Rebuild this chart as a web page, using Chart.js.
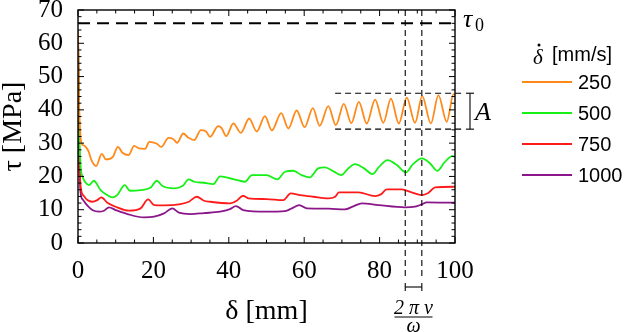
<!DOCTYPE html>
<html>
<head>
<meta charset="utf-8">
<script src="https://cdn.jsdelivr.net/npm/chart.js@4.4.0/dist/chart.umd.min.js"></script>
<style>
  html, body { margin: 0; padding: 0; background: #fff; }
  #wrap { width: 624px; height: 332px; }
</style>
</head>
<body>
<div id="wrap"><canvas id="shearChart" width="624" height="332"></canvas></div>
<script>
// sliding distance δ [mm] and shear stress τ [MPa]
const d250 = [0, 0.3, 0.6, 1.0, 1.6, 2.1, 2.8, 3.6, 4.8, 6.3, 7.4, 9.2, 10.6, 11.8, 13.4, 14.9, 16.2, 17.8, 18.9, 20.8, 22.1, 24.0, 25.3, 26.3, 27.9, 29.2, 30.8, 32.6, 33.9, 35.0, 37.2, 38.1, 39.3, 41.2, 43.2, 45.4, 47.4, 49.6, 51.4, 53.9, 55.8, 58.0, 60.1, 62.3, 64.1, 66.4, 68.4, 70.5, 72.5, 74.5, 76.6, 78.8, 81.0, 83.0, 85.1, 87.2, 89.4, 91.3, 93.6, 95.6, 97.8, 99.6, 100];
const t250 = [64, 42, 33, 29.8, 29.3, 28.8, 27.5, 24.8, 23.1, 26.8, 25.1, 25.8, 28.9, 27.1, 26.4, 29.2, 28.4, 28.3, 30.4, 29.9, 28.9, 31.6, 31.2, 30.1, 32.9, 31.7, 30.9, 33.9, 33.6, 31.9, 35.1, 34.5, 32.1, 35.9, 33.1, 37.4, 33.5, 38.1, 33.8, 39.0, 34.4, 39.8, 34.8, 40.5, 35.2, 41.1, 35.4, 41.8, 36.0, 42.4, 35.9, 43.1, 36.1, 43.4, 35.9, 43.7, 36.1, 44.1, 35.9, 44.4, 36.4, 44.7, 44.5];

const d500 = [0, 0.3, 0.7, 1.2, 1.9, 2.9, 4.2, 6.0, 7.5, 9.1, 10.4, 12.4, 13.8, 16.6, 19.3, 20.9, 22.4, 25.5, 27.7, 29.4, 30.8, 33.4, 35.9, 37.7, 41.2, 44.3, 46.1, 50.0, 52.9, 54.9, 57.1, 59.3, 61.5, 63.7, 65.5, 67.8, 69.9, 71.5, 73.5, 75.8, 78.1, 79.8, 82.1, 84.6, 87.0, 88.8, 91.2, 93.4, 95.3, 97.2, 99.3, 100];
const t500 = [62, 35, 23, 20, 18.3, 17.4, 18.7, 15.9, 14.6, 13.7, 14.4, 17.4, 15.7, 15.9, 16.7, 18.7, 17.1, 16.4, 17.1, 19.1, 18.4, 18.1, 17.7, 20.0, 19.2, 18.4, 20.4, 20.4, 19.1, 21.4, 21.7, 20.4, 19.7, 22.4, 22.7, 21.5, 20.4, 22.2, 23.7, 22.5, 20.7, 22.8, 24.9, 23.4, 21.2, 23.6, 25.4, 23.9, 21.7, 24.2, 26.1, 25.9];

const d750 = [0, 0.3, 0.7, 1.5, 2.5, 3.8, 5.0, 6.2, 7.8, 10.4, 13.5, 16.6, 18.6, 20.2, 22.8, 27.2, 29.4, 31.5, 33.4, 35.0, 40.3, 42.1, 43.8, 45.2, 50.0, 54.5, 56.4, 58.9, 62.4, 66.4, 68.2, 69.2, 74.4, 78.8, 80.3, 81.9, 85.9, 88.5, 91.2, 92.9, 94.7, 99.6, 100];
const t750 = [63, 30, 17, 14.2, 12.9, 12.4, 12.8, 13.7, 12.1, 10.7, 9.7, 10.4, 13.1, 11.4, 11.3, 11.7, 12.4, 13.9, 12.7, 12.4, 11.9, 12.7, 14.2, 13.4, 13.2, 12.9, 14.9, 14.4, 13.9, 13.4, 13.9, 15.2, 15.2, 14.1, 14.6, 16.1, 16.1, 15.2, 14.4, 15.0, 16.7, 16.9, 16.8];

const d1000 = [0, 0.3, 0.7, 1.3, 2.0, 3.8, 5.6, 6.9, 8.2, 10.0, 13.1, 17.5, 20.2, 22.8, 25.0, 26.8, 29.9, 33.4, 37.7, 40.3, 41.9, 43.8, 50.0, 54.9, 56.7, 58.7, 60.7, 66.4, 70.8, 73.0, 75.3, 79.7, 86.7, 89.4, 91.2, 92.5, 99.6, 100];
const t1000 = [64, 28, 15, 13, 11.9, 9.9, 9.4, 9.7, 10.7, 9.9, 8.7, 7.7, 7.9, 8.9, 10.4, 9.1, 8.7, 9.0, 9.4, 10.2, 11.1, 9.9, 9.4, 9.6, 10.4, 11.4, 10.4, 10.3, 10.1, 11.0, 11.9, 11.4, 10.7, 10.9, 11.6, 12.2, 12.1, 12.1];

const rateLabels = ['250', '500', '750', '1000'];
const rateColors = ['#ff8a1a', '#16f016', '#ff1a1a', '#8a168a'];

const xTicks = [0, 20, 40, 60, 80, 100];
const yTicks = [0, 10, 20, 30, 40, 50, 60, 70];

// annotation values (data units)
const tau0 = 66;
const ampTop = 45.0;
const ampBottom = 34.2;
const ampStart = 68.2;
const periodMarks = [86.8, 91.2];

const serif = '"Liberation Serif", "DejaVu Serif", serif';
const sans = '"Liberation Sans", Arial, sans-serif';

function series(xs, ys) {
    return xs.map((v, i) => ({ x: v, y: ys[i] }));
}

const allX = [d250, d500, d750, d1000];
const allY = [t250, t500, t750, t1000];

const datasets = rateLabels.map((lab, i) => ({
    label: lab,
    data: series(allX[i], allY[i]),
    borderColor: rateColors[i],
    borderWidth: 1.8,
    pointRadius: 0,
    cubicInterpolationMode: 'monotone',
    fill: false
}));

function seg(ctx, x1, y1, x2, y2) {
    ctx.beginPath();
    ctx.moveTo(x1, y1);
    ctx.lineTo(x2, y2);
    ctx.stroke();
}

const extras = {
    id: 'extras',
    afterDraw(chart) {
        const { ctx, chartArea: a, scales: { x, y } } = chart;
        ctx.save();
        ctx.strokeStyle = '#000';
        ctx.fillStyle = '#000';

        // frame + inward ticks
        ctx.lineWidth = 1.4;
        ctx.strokeRect(a.left, a.top, a.right - a.left, a.bottom - a.top);
        ctx.lineWidth = 1;
        for (let v = 0; v <= 100; v += 5) {
            const px = x.getPixelForValue(v);
            const len = v % 20 === 0 ? 6 : 3.5;
            seg(ctx, px, a.bottom, px, a.bottom - len);
            seg(ctx, px, a.top, px, a.top + len);
        }
        for (let v = 0; v <= 70; v += 2) {
            const py = y.getPixelForValue(v);
            const len = v % 10 === 0 ? 6 : 3.5;
            seg(ctx, a.left, py, a.left + len, py);
            seg(ctx, a.right, py, a.right - len, py);
        }

        // τ0 line
        const yT = y.getPixelForValue(tau0);
        ctx.lineWidth = 2;
        ctx.setLineDash([12, 7]);
        seg(ctx, a.left, yT, a.right, yT);

        // amplitude band
        ctx.lineWidth = 1.1;
        ctx.setLineDash([6, 4]);
        const yA1 = y.getPixelForValue(ampTop);
        const yA2 = y.getPixelForValue(ampBottom);
        const xA = x.getPixelForValue(ampStart);
        seg(ctx, xA, yA1, a.right + 8, yA1);
        seg(ctx, xA, yA2, a.right + 8, yA2);

        // period marks
        const xP = periodMarks.map(v => x.getPixelForValue(v));
        xP.forEach(px => seg(ctx, px, a.top, px, a.bottom + 37));
        ctx.setLineDash([]);

        // A bracket
        const xb = a.right + 15;
        seg(ctx, xb, yA1, xb, yA2);
        seg(ctx, xb - 4, yA1, xb + 4, yA1);
        seg(ctx, xb - 4, yA2, xb + 4, yA2);

        // period bracket
        const yb = a.bottom + 44;
        seg(ctx, xP[0], yb, xP[1], yb);
        seg(ctx, xP[0], yb - 4, xP[0], yb + 4);
        seg(ctx, xP[1], yb - 4, xP[1], yb + 4);

        // labels
        ctx.textBaseline = 'alphabetic';
        ctx.textAlign = 'left';
        ctx.font = 'italic 26px ' + serif;
        ctx.fillText('τ', a.right + 8, yT + 4);
        ctx.font = '18px ' + serif;
        ctx.fillText('0', a.right + 20, yT + 8);
        ctx.font = 'italic 26px ' + serif;
        ctx.fillText('A', a.right + 20, (yA1 + yA2) / 2 + 9);

        const xm = (xP[0] + xP[1]) / 2;
        ctx.textAlign = 'center';
        ctx.font = 'italic 20px ' + serif;
        ctx.fillText('2 π v', xm, yb + 27);
        ctx.lineWidth = 1;
        seg(ctx, xm - 19, yb + 30, xm + 19, yb + 30);
        ctx.fillText('ω', xm, yb + 45);

        // legend
        const lx = a.right + 67;
        ctx.textAlign = 'left';
        ctx.font = 'italic 21px ' + serif;
        ctx.fillText('δ', lx + 11, 64);
        ctx.beginPath();
        ctx.arc(lx + 17, 45, 1.5, 0, Math.PI * 2);
        ctx.fill();
        ctx.font = '20px ' + sans;
        ctx.fillText('[mm/s]', lx + 30, 61);
        ctx.textBaseline = 'middle';
        chart.data.datasets.forEach((ds, i) => {
            const ly = 82 + i * 31;
            ctx.strokeStyle = ds.borderColor;
            ctx.lineWidth = 1.8;
            seg(ctx, lx, ly, lx + 50, ly);
            ctx.fillStyle = '#000';
            ctx.fillText(ds.label, lx + 56, ly + 1);
        });
        ctx.restore();
    }
};

new Chart(document.getElementById('shearChart'), {
    type: 'line',
    data: { datasets },
    options: {
        responsive: false,
        animation: false,
        devicePixelRatio: 1,
        layout: { padding: { left: 0, right: 169, top: 10, bottom: 0 } },
        plugins: {
            legend: { display: false },
            tooltip: { enabled: false }
        },
        scales: {
            x: {
                type: 'linear',
                min: 0,
                max: 100,
                afterBuildTicks: s => { s.ticks = xTicks.map(v => ({ value: v })); },
                afterFit: s => { s.height = 89; s.paddingLeft = 0; s.paddingRight = 0; },
                grid: { display: false },
                border: { display: false },
                ticks: { color: '#000', padding: 5, maxRotation: 0, font: { family: serif, size: 25 } },
                title: { display: true, text: 'δ [mm]', color: '#000', padding: { top: 6, bottom: 6 }, font: { family: serif, size: 28, lineHeight: 1 } }
            },
            y: {
                min: 0,
                max: 70,
                afterBuildTicks: s => { s.ticks = yTicks.map(v => ({ value: v })); },
                afterFit: s => { s.width = 78; s.paddingTop = 0; s.paddingBottom = 0; },
                grid: { display: false },
                border: { display: false },
                ticks: { color: '#000', padding: 7, font: { family: serif, size: 25 } },
                title: { display: true, text: 'τ [MPa]', color: '#000', padding: 0, font: { family: serif, size: 28, lineHeight: 1 } }
            }
        }
    },
    plugins: [extras]
});
</script>
</body>
</html>
